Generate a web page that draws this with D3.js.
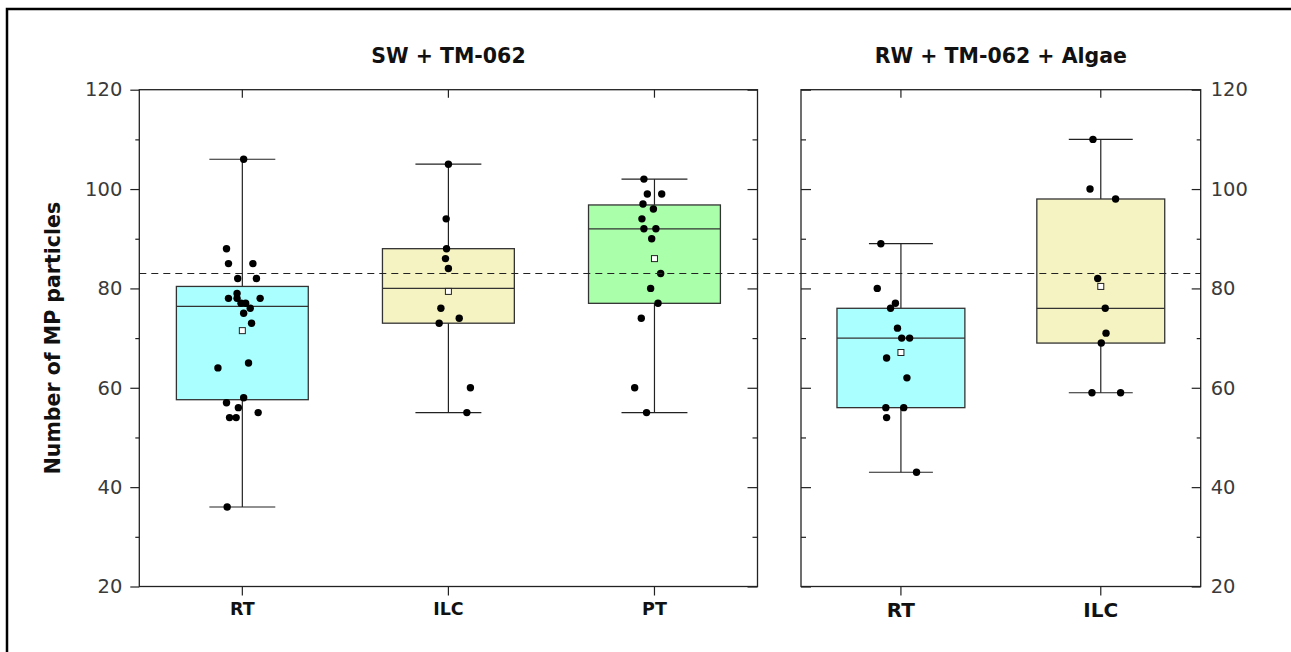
<!DOCTYPE html>
<html><head><meta charset="utf-8">
<script src="https://cdn.jsdelivr.net/npm/d3@7"></script>
<style>body{margin:0;background:#fff}svg{display:block}</style>
</head><body><svg id="c" width="1291" height="652"></svg>
<script>
// ---------- data ----------
const panelTitles = ["SW + TM-062", "RW + TM-062 + Algae"];
const yAxisTitle = "Number of MP particles";
const yTicks = [20, 40, 60, 80, 100, 120];
const yMinorTicks = [30, 50, 70, 90, 110];
const referenceValue = 83;

const categoriesLeft = ["RT", "ILC", "PT"];
const categoriesRight = ["RT", "ILC"];

// raw observations
const swRT  = [106, 88, 85, 85, 82, 82, 79, 78, 78, 78, 77, 77, 76, 75, 73, 65, 64, 58, 57, 56, 55, 54, 54, 36];
const swILC = [105, 94, 88, 86, 84, 76, 74, 73, 60, 55];
const swPT  = [102, 99, 99, 97, 96, 94, 92, 92, 90, 83, 80, 77, 74, 60, 55];
const rwRT  = [89, 80, 77, 76, 72, 70, 70, 66, 62, 56, 56, 54, 43];
const rwILC = [110, 100, 98, 82, 76, 71, 69, 59, 59];

// horizontal jitter of each observation (fraction of box width)
const swRTJitter  = [0.01, -0.12, -0.105, 0.08, -0.035, 0.107, -0.04, -0.04, -0.105, 0.135, -0.01, 0.025, 0.06, 0.01, 0.07, 0.047, -0.185, 0.01, -0.12, -0.03, 0.12, -0.097, -0.047, -0.115];
const swILCJitter = [0.0, -0.017, -0.014, -0.022, 0.0, -0.057, 0.082, -0.07, 0.167, 0.14];
const swPTJitter  = [-0.08, -0.054, 0.055, -0.087, -0.008, -0.095, -0.08, 0.011, -0.021, 0.047, -0.029, 0.027, -0.1, -0.15, -0.06];
const rwRTJitter  = [-0.157, -0.185, -0.043, -0.081, -0.027, 0.006, 0.068, -0.112, 0.047, -0.118, 0.022, -0.112, 0.122];
const rwILCJitter = [-0.061, -0.084, 0.116, -0.024, 0.035, 0.041, 0.004, -0.069, 0.155];

// box statistics: [whiskerLow, q1, median, q3, whiskerHigh, mean]
const swRTStats  = [36, 57.6, 76.4, 80.4, 106, 71.5];
const swILCStats = [55, 73, 80, 88, 105, 79.4];
const swPTStats  = [55, 77, 92, 96.8, 102, 86];
const rwRTStats  = [43, 56, 70, 76, 89, 67.1];
const rwILCStats = [59, 69, 76, 98, 110, 80.4];

const boxColors = {RT: "#aaffff", ILC: "#f6f3c2", PT: "#aaffaa"};

// ---------- layout ----------
const svg = d3.select("#c");
const W = 1291, H = 652;
const yTop = 89.7, yBottom = 586.5;
const panels = [
  {x0: 139.3, x1: 757.5, title: panelTitles[0], cats: categoriesLeft, catFont: 17.5,
   groups: [
     {cat: "RT", vals: swRT, jit: swRTJitter, stats: swRTStats},
     {cat: "ILC", vals: swILC, jit: swILCJitter, stats: swILCStats},
     {cat: "PT", vals: swPT, jit: swPTJitter, stats: swPTStats}]},
  {x0: 801, x1: 1200.7, title: panelTitles[1], cats: categoriesRight, catFont: 20,
   groups: [
     {cat: "RT", vals: rwRT, jit: rwRTJitter, stats: rwRTStats},
     {cat: "ILC", vals: rwILC, jit: rwILCJitter, stats: rwILCStats}]}
];

const y = d3.scaleLinear().domain([20, 120]).range([yBottom, yTop]);
const numFont = "'DejaVu Sans', sans-serif";
const boldFont = "'DejaVu Sans', sans-serif";
const axisColor = "#222";

// outer frame
svg.append("rect").attr("x", 7).attr("y", 9).attr("width", W + 20).attr("height", H + 20)
  .attr("fill", "none").attr("stroke", "#000").attr("stroke-width", 2.5);

function styleAxis(g, labels) {
  g.select(".domain").remove();
  g.selectAll(".tick line").attr("stroke", axisColor).attr("stroke-width", 1.2);
  if (!labels) g.selectAll(".tick text").remove();
}

panels.forEach((p, pi) => {
  const x = d3.scaleBand().domain(p.cats).range([p.x0, p.x1]).padding(0);
  const bw = x.bandwidth() * 0.64;
  const g = svg.append("g");

  p.groups.forEach(gr => {
    const cx = x(gr.cat) + x.bandwidth() / 2;
    const [lo, q1, med, q3, hi, mean] = gr.stats;
    const gg = g.append("g");
    gg.append("line").attr("x1", cx).attr("x2", cx).attr("y1", y(hi)).attr("y2", y(lo))
      .attr("stroke", "#222").attr("stroke-width", 1.2);
    [lo, hi].forEach(v => gg.append("line").attr("x1", cx - bw / 4).attr("x2", cx + bw / 4)
      .attr("y1", y(v)).attr("y2", y(v)).attr("stroke", "#222").attr("stroke-width", 1.2));
    gg.append("rect").attr("x", cx - bw / 2).attr("y", y(q3)).attr("width", bw)
      .attr("height", y(q1) - y(q3)).attr("fill", boxColors[gr.cat])
      .attr("stroke", "#333").attr("stroke-width", 1.3);
    gg.append("line").attr("x1", cx - bw / 2).attr("x2", cx + bw / 2)
      .attr("y1", y(med)).attr("y2", y(med)).attr("stroke", "#333").attr("stroke-width", 1.3);
    gg.selectAll("circle").data(gr.vals).join("circle")
      .attr("cx", (d, i) => cx + gr.jit[i] * bw).attr("cy", d => y(d))
      .attr("r", 3.7).attr("fill", "#000");
    gg.append("rect").attr("x", cx - 3).attr("y", y(mean) - 3).attr("width", 6).attr("height", 6)
      .attr("fill", "#fff").attr("stroke", "#222").attr("stroke-width", 1);
  });

  g.append("rect").attr("x", p.x0).attr("y", yTop).attr("width", p.x1 - p.x0)
    .attr("height", yBottom - yTop).attr("fill", "none").attr("stroke", axisColor).attr("stroke-width", 1.3);

  if (pi === 0) {
    const a = g.append("g").attr("transform", `translate(${p.x0},0)`)
      .call(d3.axisLeft(y).tickValues(yTicks).tickSize(9).tickPadding(8));
    styleAxis(a, true);
    a.selectAll(".tick text").attr("font-family", numFont).attr("font-size", 19.5).attr("fill", "#3a3a3a");
    const am = g.append("g").attr("transform", `translate(${p.x0},0)`)
      .call(d3.axisLeft(y).tickValues(yMinorTicks).tickSize(4));
    styleAxis(am, false);
    const b = g.append("g").attr("transform", `translate(${p.x1},0)`)
      .call(d3.axisLeft(y).tickValues(yTicks).tickSize(10));
    styleAxis(b, false);
    const bm = g.append("g").attr("transform", `translate(${p.x1},0)`)
      .call(d3.axisLeft(y).tickValues(yMinorTicks).tickSize(5));
    styleAxis(bm, false);
  } else {
    const a = g.append("g").attr("transform", `translate(${p.x0},0)`)
      .call(d3.axisRight(y).tickValues(yTicks).tickSize(10));
    styleAxis(a, false);
    const am = g.append("g").attr("transform", `translate(${p.x0},0)`)
      .call(d3.axisRight(y).tickValues(yMinorTicks).tickSize(5));
    styleAxis(am, false);
    const b = g.append("g").attr("transform", `translate(${p.x1},0)`)
      .call(d3.axisRight(y).tickValues(yTicks).tickSizeInner(-9).tickSizeOuter(0).tickPadding(10));
    styleAxis(b, true);
    b.selectAll(".tick text").attr("font-family", numFont).attr("font-size", 19.5).attr("fill", "#3a3a3a");
    const bm = g.append("g").attr("transform", `translate(${p.x1},0)`)
      .call(d3.axisLeft(y).tickValues(yMinorTicks).tickSize(4));
    styleAxis(bm, false);
  }

  const xb = g.append("g").attr("transform", `translate(0,${yBottom})`)
    .call(d3.axisBottom(x).tickSize(9).tickPadding(7));
  styleAxis(xb, true);
  xb.selectAll(".tick text").attr("font-family", boldFont).attr("font-weight", "bold")
    .attr("font-size", p.catFont).attr("fill", "#111");
  const xt = g.append("g").attr("transform", `translate(0,${yTop})`)
    .call(d3.axisBottom(x).tickSize(8));
  styleAxis(xt, false);

  svg.append("text").attr("x", (p.x0 + p.x1) / 2).attr("y", 63).attr("text-anchor", "middle")
    .attr("font-family", boldFont).attr("font-weight", "bold").attr("font-size", 20.5)
    .attr("fill", "#111").text(p.title);
});

svg.append("line").attr("x1", panels[0].x0).attr("x2", panels[1].x1)
  .attr("y1", y(referenceValue)).attr("y2", y(referenceValue))
  .attr("stroke", "#222").attr("stroke-width", 1.2).attr("stroke-dasharray", "7,5");

svg.append("text").attr("transform", `translate(60,${(yTop + yBottom) / 2}) rotate(-90)`)
  .attr("text-anchor", "middle").attr("font-family", boldFont).attr("font-weight", "bold")
  .attr("font-size", 20.5).attr("fill", "#111").text(yAxisTitle);
</script></body></html>
